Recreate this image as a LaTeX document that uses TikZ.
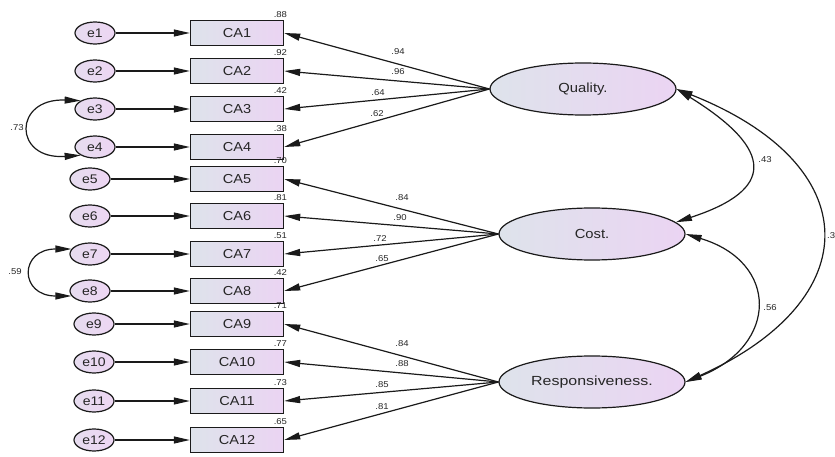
\documentclass[tikz,border=0pt]{standalone}
\usepackage{fontspec}
\setmainfont[FakeStretch=1.12]{Liberation Sans}
\usetikzlibrary{shapes.geometric,arrows.meta}

\definecolor{boxL}{HTML}{DEE3EB}
\definecolor{boxR}{HTML}{EBD4F3}
\definecolor{errL}{HTML}{E6DCEF}
\definecolor{errR}{HTML}{EDD6F3}
\definecolor{ink}{HTML}{1A1A1A}
\definecolor{txt}{HTML}{262626}

\tikzset{
  obs/.style={rectangle, draw=ink, line width=1.4pt, minimum width=93pt,
    minimum height=25pt, inner sep=0pt, left color=boxL, right color=boxR,
    text=txt, font=\fontsize{13}{15}\selectfont},
  err/.style={ellipse, draw=ink, line width=1.2pt, minimum width=40pt,
    minimum height=22pt, inner sep=0pt, left color=errL, right color=errR,
    text=txt, font=\fontsize{12.5}{14}\selectfont},
  lat/.style={ellipse, draw=ink, line width=1.2pt, minimum width=186pt,
    minimum height=52pt, inner sep=0pt, left color=boxL, right color=boxR,
    text=txt, font=\fontsize{13.2}{15}\selectfont},
  headtip/.tip={Triangle[length=16pt,width=7pt]},
  reg/.style={draw=ink, line width=1.2pt, -headtip},
  cov/.style={draw=ink, line width=1.2pt, headtip-headtip},
  coef/.style={text=txt, inner sep=0pt, font=\fontsize{8.5}{10}\selectfont},
  rsq/.style={coef, anchor=south east, yshift=2pt, xshift=3pt},
}

\begin{document}
\begin{tikzpicture}[x=1pt, y=-1pt]
  \useasboundingbox (0,0) rectangle (835,457);
  \fill[white] (0,0) rectangle (835,457);

  % observed indicators
  \foreach \i/\y in {1/33,2/71,3/109,4/147,5/179,6/216,7/254,8/291,9/324,10/362,11/401,12/440}
    \node[obs] (CA\i) at (237,\y) {CA\i};

  % error terms
  \foreach \i/\x/\y in {1/95/33,2/95/71,3/95/109,4/95/147,5/90/179,6/90/216,7/90/254,8/90/291,9/94/324,10/94/362,11/94/401,12/94/440}
    \node[err] (e\i) at (\x,\y) {e\i};

  % latent factors
  \node[lat] (Q) at (583,89)  {Quality.};
  \node[lat] (C) at (592,234) {Cost.};
  \node[lat] (R) at (592,382) {\scalebox{1.08}[1]{Responsiveness.}};

  % error paths
  \foreach \i in {1,...,12}
    \draw[reg] (e\i.east) -- (CA\i.west);

  % squared multiple correlations
  \foreach \i/\v in {1/.88,2/.92,3/.42,4/.38,5/.70,6/.81,7/.51,8/.42,9/.71,10/.77,11/.73,12/.65}
    \node[rsq] (r\i) at (CA\i.north east) {\v};

  % factor loadings
  \foreach \i in {1,...,4}  \draw[reg] (Q.west) -- (CA\i.east);
  \foreach \i in {5,...,8}  \draw[reg] (C.west) -- (CA\i.east);
  \foreach \i in {9,...,12} \draw[reg] (R.west) -- (CA\i.east);

  \node[coef] (l1)  at (398,52)  {.94};
  \node[coef] (l2)  at (398,72)  {.96};
  \node[coef] (l3)  at (378,93)  {.64};
  \node[coef] (l4)  at (377,114) {.62};
  \node[coef] (l5)  at (402,198) {.84};
  \node[coef] (l6)  at (400,218) {.90};
  \node[coef] (l7)  at (380,239) {.72};
  \node[coef] (l8)  at (382,259) {.65};
  \node[coef] (l9)  at (402,344) {.84};
  \node[coef] (l10) at (402,364) {.88};
  \node[coef] (l11) at (382,385) {.85};
  \node[coef] (l12) at (382,407) {.81};

  % factor covariances
  \draw[cov] (Q.east) .. controls (775,150) and (775,190) .. (C.8);
  \draw[cov] (C.east) .. controls (779,262) and (779,345) .. (R.east);
  \draw[cov] (Q.east) .. controls (868,165) and (868,300) .. (R.east);
  \node[coef] (k1) at (765,160) {.43};
  \node[coef] (k2) at (770,308) {.56};
  \node[coef, anchor=west] (k3) at (827,236) {.3};

  % error covariances
  \draw[cov] (e3.150) .. controls (13,98) and (13,160) .. (e4.210);
  \draw[cov] (e7.165) .. controls (19,249) and (19,296) .. (e8.195);
  \node[coef] (k4) at (17,128) {.73};
  \node[coef] (k5) at (15,272) {.59};
\end{tikzpicture}
\end{document}
